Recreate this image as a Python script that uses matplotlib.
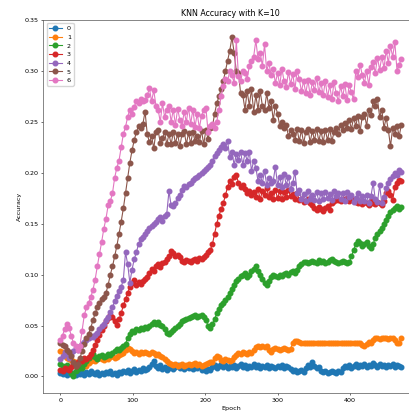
import numpy as np
import matplotlib
matplotlib.use("Agg")
import matplotlib.pyplot as plt

# KNN accuracy per epoch, one curve per class (values in thousandths)
EPOCHS = np.arange(0, 472, 3)
LABELS = ["0", "1", "2", "3", "4", "5", "6"]

acc_0 = [3, 2, 4, 1, 5, 2, 3, 1, 4, 2,
         3, 1, 4, 2, 5, 3, 2, 4, 1, 3,
         2, 4, 3, 5, 2, 3, 1, 4, 3, 5,
         4, 6, 3, 5, 7, 4, 6, 5, 8, 6,
         7, 9, 12, 15, 10, 8, 11, 7, 9, 6,
         8, 10, 7, 9, 11, 8, 10, 7, 9, 8,
         10, 7, 9, 8, 11, 6, 9, 5, 7, 6,
         9, 11, 8, 10, 12, 9, 11, 8, 10, 9,
         11, 8, 10, 12, 9, 11, 8, 10, 9, 12,
         9, 11, 8, 10, 9, 11, 8, 10, 9, 8,
         10, 9, 11, 8, 10, 9, 7, 5, 6, 4,
         5, 6, 4, 8, 11, 9, 14, 10, 8, 9,
         5, 4, 5, 3, 4, 5, 4, 3, 5, 4,
         8, 10, 9, 11, 8, 10, 12, 9, 11, 10,
         12, 9, 11, 10, 13, 11, 9, 12, 10, 11,
         9, 11, 10, 12, 9, 11, 10, 9]

acc_1 = [25, 24, 20, 18, 17, 16, 15, 14, 13, 12,
         11, 12, 10, 13, 15, 16, 15, 17, 18, 17,
         16, 18, 17, 19, 20, 18, 19, 21, 22, 23,
         26, 28, 27, 25, 23, 24, 22, 24, 23, 24,
         23, 22, 24, 23, 21, 22, 20, 19, 17, 15,
         13, 12, 11, 12, 10, 11, 12, 10, 11, 12,
         11, 12, 13, 11, 12, 10, 11, 12, 13, 14,
         14, 18, 20, 19, 16, 15, 17, 16, 15, 16,
         19, 21, 23, 22, 24, 23, 22, 24, 23, 26,
         29, 30, 29, 30, 29, 30, 26, 24, 27, 28,
         27, 26, 27, 28, 27, 26, 27, 33, 35, 35,
         34, 33, 33, 33, 33, 33, 33, 33, 33, 33,
         33, 33, 33, 33, 33, 33, 33, 33, 33, 33,
         33, 33, 33, 33, 33, 33, 33, 33, 33, 31,
         30, 32, 34, 33, 36, 38, 38, 37, 38, 38,
         38, 37, 38, 38, 36, 33, 33, 38]

acc_2 = [12, 10, 9, 11, 8, 3, 0, 5, 7, 9,
         8, 12, 15, 18, 20, 22, 19, 17, 20, 21,
         19, 20, 22, 21, 23, 25, 27, 26, 28, 30,
         32, 38, 42, 45, 44, 47, 46, 48, 47, 49,
         48, 50, 52, 53, 52, 53, 51, 50, 47, 43,
         42, 44, 46, 48, 50, 52, 54, 55, 56, 57,
         58, 59, 60, 58, 59, 60, 58, 55, 50, 48,
         52, 56, 62, 66, 70, 72, 75, 78, 82, 86,
         90, 94, 96, 99, 100, 102, 98, 100, 104, 106,
         108, 104, 100, 96, 92, 90, 94, 98, 100, 99,
         98, 100, 99, 101, 102, 100, 103, 104, 102, 105,
         108, 110, 112, 112, 111, 112, 113, 112, 111, 114,
         112, 113, 111, 112, 114, 115, 113, 112, 111, 112,
         113, 112, 111, 112, 118, 124, 130, 133, 131, 128,
         130, 132, 128, 126, 130, 136, 140, 143, 146, 150,
         154, 158, 161, 163, 165, 167, 164, 166]

acc_3 = [6, 5, 8, 7, 6, 9, 12, 10, 14, 16,
         15, 18, 17, 19, 22, 26, 31, 36, 41, 46,
         50, 54, 57, 60, 58, 54, 51, 56, 62, 70,
         76, 82, 88, 92, 95, 90, 93, 91, 94, 96,
         98, 102, 106, 104, 108, 110, 107, 111, 112, 115,
         118, 123, 121, 118, 119, 117, 113, 112, 114, 113,
         112, 114, 115, 113, 116, 115, 117, 119, 122, 124,
         130, 140, 150, 158, 164, 170, 178, 186, 192, 189,
         196, 198, 190, 186, 188, 184, 180, 182, 178, 181,
         176, 184, 174, 182, 178, 185, 176, 180, 174, 183,
         175, 182, 174, 181, 176, 183, 177, 179, 174, 180,
         173, 174, 171, 172, 174, 170, 168, 165, 163, 166,
         164, 162, 165, 167, 163, 170, 172, 174, 173, 172,
         174, 173, 175, 172, 174, 173, 171, 170, 172, 169,
         171, 170, 168, 172, 170, 169, 171, 170, 168, 172,
         180, 182, 178, 173, 186, 190, 193, 192]

acc_4 = [17, 20, 24, 22, 18, 21, 25, 28, 26, 30,
         32, 34, 36, 38, 40, 39, 41, 43, 47, 50,
         52, 55, 58, 63, 68, 74, 79, 84, 88, 95,
         122, 110, 92, 105, 115, 122, 130, 135, 137, 140,
         143, 146, 148, 150, 152, 155, 157, 153, 158, 160,
         182, 168, 167, 170, 175, 178, 183, 187, 186, 189,
         190, 193, 195, 196, 198, 200, 202, 204, 206, 208,
         212, 216, 219, 222, 225, 228, 224, 231, 215, 220,
         208, 218, 213, 220, 208, 219, 212, 220, 202, 212,
         205, 192, 198, 190, 202, 188, 195, 190, 192, 206,
         188, 196, 186, 199, 188, 196, 184, 190, 201, 180,
         183, 174, 179, 172, 182, 174, 178, 173, 181, 172,
         180, 174, 181, 175, 179, 173, 182, 177, 180, 174,
         180, 172, 181, 176, 178, 171, 175, 180, 172, 177,
         172, 178, 170, 177, 190, 174, 171, 188, 170, 176,
         185, 190, 194, 197, 200, 198, 203, 201]

acc_5 = [33, 31, 30, 26, 24, 20, 14, 10, 12, 18,
         25, 32, 38, 42, 48, 55, 62, 68, 72, 76,
         78, 82, 90, 100, 108, 118, 128, 140, 152, 165,
         180, 195, 210, 222, 232, 240, 246, 244, 248, 260,
         238, 230, 236, 224, 240, 242, 229, 234, 240, 228,
         238, 228, 240, 229, 238, 226, 238, 241, 228, 239,
         229, 240, 231, 236, 230, 241, 228, 242, 233, 244,
         245, 258, 268, 275, 282, 290, 300, 310, 320, 333,
         318, 300, 298, 278, 276, 262, 280, 266, 282, 260,
         276, 262, 280, 266, 262, 278, 264, 270, 252, 266,
         258, 246, 250, 244, 247, 236, 242, 238, 232, 243,
         231, 242, 229, 240, 243, 230, 241, 232, 243, 231,
         241, 230, 242, 232, 243, 231, 240, 244, 238, 247,
         242, 249, 244, 252, 243, 254, 246, 256, 241, 255,
         258, 246, 262, 257, 270, 266, 272, 255, 262, 244,
         254, 242, 226, 244, 238, 246, 236, 247]

acc_6 = [36, 40, 47, 52, 48, 40, 33, 30, 26, 30,
         45, 60, 68, 72, 78, 85, 95, 108, 120, 132,
         145, 155, 168, 172, 180, 195, 205, 212, 225, 238,
         245, 255, 262, 258, 265, 270, 268, 272, 270, 271,
         276, 283, 270, 281, 266, 262, 250, 268, 255, 262,
         266, 250, 262, 247, 263, 252, 246, 260, 250, 264,
         248, 262, 245, 258, 244, 256, 262, 264, 240, 246,
         248, 244, 250, 262, 275, 285, 292, 290, 300, 296,
         288, 330, 295, 290, 300, 298, 292, 305, 310, 314,
         330, 312, 318, 305, 326, 300, 308, 296, 302, 288,
         298, 286, 302, 290, 284, 299, 287, 297, 282, 300,
         292, 280, 290, 278, 291, 276, 289, 281, 293, 279,
         288, 276, 290, 274, 286, 272, 289, 278, 270, 285,
         275, 287, 271, 286, 279, 272, 300, 294, 306, 296,
         288, 300, 286, 304, 309, 298, 313, 301, 314, 303,
         320, 308, 324, 314, 328, 300, 306, 312]

series = [acc_0, acc_1, acc_2, acc_3, acc_4, acc_5, acc_6]

FS = 4.6
fig = plt.figure(figsize=(4.09, 4.17), dpi=100)
ax = fig.add_axes([0.1059, 0.0564, 0.9171, 0.8957])

for label, vals in zip(LABELS, series):
    ax.plot(EPOCHS, np.array(vals) / 1000, marker="o", markersize=3.3,
            linewidth=0.8, label=label)

ax.set_ylim(-0.0167, 0.35)
ax.set_title("KNN Accuracy with K=10", fontsize=5.7, pad=3)
ax.set_xlabel("Epoch", fontsize=FS, labelpad=2)
ax.set_ylabel("Accuracy", fontsize=FS, labelpad=2)
ax.tick_params(labelsize=FS, length=1.6, width=0.4, pad=1.5)
for sp in ax.spines.values():
    sp.set_linewidth(0.5)
    sp.set_color("#555555")
ax.legend(loc="upper left", fontsize=FS, borderpad=0.4,
          handlelength=2.0, framealpha=0.8)

fig.savefig("out.png", dpi=100)
